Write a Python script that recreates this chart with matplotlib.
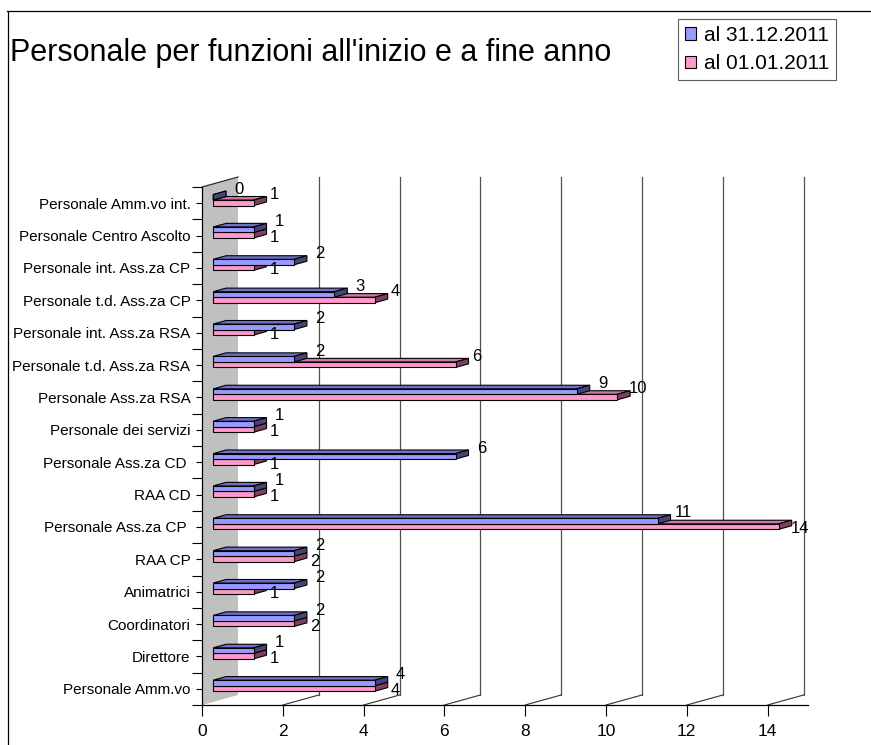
import matplotlib
matplotlib.use("Agg")
import matplotlib.pyplot as plt
from matplotlib.patches import Polygon, Patch
from matplotlib.lines import Line2D
import matplotlib.transforms as mtransforms

plt.rcParams['font.family'] = ['Liberation Sans', 'DejaVu Sans']

# ---- data -------------------------------------------------------------
categories = [
    "Personale Amm.vo", "Direttore", "Coordinatori", "Animatrici", "RAA CP",
    "Personale Ass.za CP ", "RAA CD", "Personale Ass.za CD ",
    "Personale dei servizi", "Personale Ass.za RSA",
    "Personale t.d. Ass.za RSA", "Personale int. Ass.za RSA",
    "Personale t.d. Ass.za CP", "Personale int. Ass.za CP",
    "Personale Centro Ascolto", "Personale Amm.vo int.",
]
fine_anno = [4, 1, 2, 2, 2, 11, 1, 6, 1, 9, 2, 2, 3, 2, 1, 0]     # al 31.12.2011
inizio_anno = [4, 1, 2, 1, 2, 14, 1, 1, 1, 10, 6, 1, 4, 1, 1, 1]  # al 01.01.2011
series_names = ["al 31.12.2011", "al 01.01.2011"]
x_ticks = [0, 2, 4, 6, 8, 10, 12, 14]
title = "Personale per funzioni all'inizio e a fine anno"

# ---- styling ------------------------------------------------------------
W, H = 871, 745
fig = plt.figure(figsize=(W / 100, H / 100), dpi=100)
ax = fig.add_axes([202 / W, 40 / H, 606 / W, 518 / H])
XMAX, NCAT = 15, len(categories)
ax.set_xlim(0, XMAX)
ax.set_ylim(0, NCAT)

px_x = 606 / XMAX          # pixels per value unit
px_y = 518 / NCAT          # pixels per category
DX, DY = 36 / px_x, 10 / px_y   # depth offset of the back wall
F0, F1 = 0.31, 0.67             # bar depth span (fraction of wall depth)
HALF = 5.5 / px_y               # thickness of one bar

colors = {
    0: dict(front="#9999FF", top="#7070C8", side="#45457A"),
    1: dict(front="#FF99CC", top="#CC7AA3", side="#7F405F"),
}
EDGE = dict(edgecolor="black", linewidth=0.8, joinstyle="miter")

# back wall gridlines and floor diagonals
for v in x_ticks[1:]:
    ax.add_line(Line2D([v + DX, v + DX], [DY, NCAT + DY], color="#505050",
                       lw=0.9, clip_on=False))
    ax.add_line(Line2D([v, v + DX], [0, DY], color="#303030", lw=0.8,
                       clip_on=False))

# grey side wall
ax.add_patch(Polygon([(0, 0), (DX, DY), (DX, NCAT + DY), (0, NCAT)],
                     closed=True, facecolor="#C0C0C0", edgecolor="none",
                     clip_on=False, zorder=1))
ax.add_line(Line2D([0, DX], [NCAT, NCAT + DY], color="#303030", lw=0.9,
                   clip_on=False, zorder=2))


def draw_bar(v, y0, y1, c):
    """Draw a 3-D bar of length v between y0 and y1 (front plane)."""
    a, b = F0, F1
    top = [(a * DX, y1 + a * DY), (v + a * DX, y1 + a * DY),
           (v + b * DX, y1 + b * DY), (b * DX, y1 + b * DY)]
    side = [(v + a * DX, y0 + a * DY), (v + b * DX, y0 + b * DY),
            (v + b * DX, y1 + b * DY), (v + a * DX, y1 + a * DY)]
    front = [(a * DX, y0 + a * DY), (v + a * DX, y0 + a * DY),
             (v + a * DX, y1 + a * DY), (a * DX, y1 + a * DY)]
    for pts, fc in ((top, c["top"]), (side, c["side"]), (front, c["front"])):
        ax.add_patch(Polygon(pts, closed=True, facecolor=fc, clip_on=False,
                             zorder=3, **EDGE))


for k in range(NCAT):
    c = k + 0.5
    vb, vp = fine_anno[k], inizio_anno[k]
    draw_bar(vp, c - HALF, c, colors[1])
    draw_bar(vb, c, c + HALF, colors[0])

    # value labels near the bar ends
    tb = mtransforms.offset_copy(ax.transData, fig=fig, x=13 * 0.72,
                                 y=14 * 0.72, units="points")
    ax.text(vb + F1 * DX, c, str(vb), transform=tb, ha="center",
            va="center", fontsize=12, zorder=5)
    dy_p = 9 if vp > vb and vp < 14 else -2
    tp = mtransforms.offset_copy(ax.transData, fig=fig, x=8 * 0.72,
                                 y=dy_p * 0.72, units="points")
    ax.text(vp + F1 * DX, c, str(vp), transform=tp, ha="center",
            va="center", fontsize=12, zorder=5)

# axes, ticks and labels
for s in ("top", "right"):
    ax.spines[s].set_visible(False)
for s in ("left", "bottom"):
    ax.spines[s].set_linewidth(0.9)
    ax.spines[s].set_color("black")
    ax.spines[s].set_zorder(4)

ax.set_xticks(x_ticks)
ax.set_xticklabels([str(t) for t in x_ticks], fontsize=12.5)
ax.tick_params(axis="x", direction="out", length=8, width=0.8, pad=6)

ax.set_yticks([k + 0.5 for k in range(NCAT)])
ax.set_yticklabels(categories, fontsize=11)
ax.set_yticks(range(NCAT + 1), minor=True)
ax.tick_params(axis="y", which="major", direction="out", length=4.3,
               width=0.8, pad=4)
ax.tick_params(axis="y", which="minor", direction="out", length=7,
               width=0.8)
ax.patch.set_visible(False)

# title
fig.text(10 / W, 1 - 53 / H, title, fontsize=22, ha="left", va="center")

# legend
handles = [Patch(facecolor=colors[i]["front"], edgecolor="black",
                 linewidth=0.8) for i in range(2)]
leg = fig.legend(handles, series_names, loc="upper left",
                 bbox_to_anchor=(678 / W, 1 - 19 / H), borderaxespad=0,
                 fontsize=15, frameon=True, fancybox=False, shadow=False,
                 handlelength=0.55, handleheight=0.55, handletextpad=0.35,
                 labelspacing=0.45, borderpad=0.33)
leg.get_frame().set_edgecolor("#333333")
leg.get_frame().set_linewidth(0.8)

# chart border (top and left edges)
fig.add_artist(Line2D([7 / W, 1], [1 - 10.5 / H, 1 - 10.5 / H],
                      transform=fig.transFigure, color="black", lw=0.9))
fig.add_artist(Line2D([7.5 / W, 7.5 / W], [0, 1 - 10.5 / H],
                      transform=fig.transFigure, color="black", lw=0.9))

fig.savefig("out.png", dpi=100)
